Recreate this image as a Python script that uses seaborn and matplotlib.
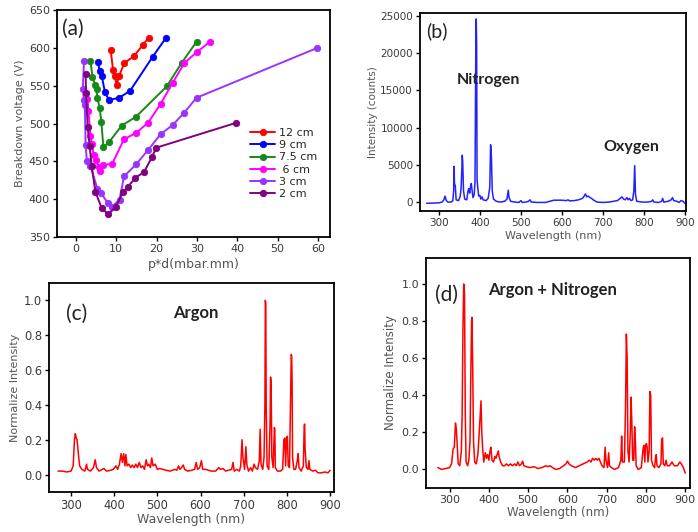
import pandas as pd
import numpy as np
import seaborn as sns
import matplotlib.pyplot as plt
sns.set_theme(style="ticks")
plt.rcParams['font.family'] = ['DejaVu Sans']

## (a) breakdown voltage vs p*d
pd_12 = [8.6, 9.2, 9.6, 10.1, 10.7, 12.0, 14.4, 16.6, 18.0]
v_12 = [597, 571, 563, 551, 563, 580, 589, 604, 613]
pd_9 = [5.4, 5.9, 6.4, 7.2, 8.2, 10.7, 13.4, 19.0, 22.3]
v_9 = [581, 570, 563, 541, 531, 534, 543, 588, 613]
pd_75 = [3.6, 4.1, 4.8, 5.1, 5.3, 5.9, 6.3, 6.8, 8.3, 11.3, 14.9, 22.5, 26.2, 29.9]
v_75 = [583, 561, 551, 546, 534, 520, 502, 469, 476, 497, 509, 549, 580, 608]
pd_6 = [2.8, 3.1, 3.6, 3.9, 4.4, 5.0, 5.6, 6.0, 6.6, 9.0, 11.9, 15.0, 17.9, 21.0, 24.0, 26.9, 29.9, 33.2]
v_6 = [532, 517, 483, 473, 459, 452, 442, 437, 445, 447, 479, 488, 501, 526, 554, 580, 594, 608]
pd_3 = [2.0, 1.7, 2.0, 2.2, 2.4, 2.7, 3.6, 5.3, 6.2, 7.9, 8.9, 10.8, 11.9, 14.9, 17.9, 21.0, 24.0, 26.8, 29.9, 59.9]
v_3 = [583, 545, 531, 524, 471, 451, 444, 414, 408, 395, 390, 399, 430, 446, 465, 486, 498, 514, 534, 600]
pd_2 = [2.4, 2.5, 2.9, 3.4, 3.9, 4.8, 6.4, 8.0, 9.9, 11.6, 12.8, 14.7, 16.9, 18.9, 19.9, 39.8]
v_2 = [565, 540, 496, 470, 444, 410, 388, 380, 390, 409, 416, 428, 436, 456, 468, 501]
gaps = ['12 cm', '9 cm', '7.5 cm', ' 6 cm', '3 cm', '2 cm']
gap_colors = ['#ff0000', '#0000ff', '#168a16', '#ff00ff', '#9933ff', '#800080']

## (b) air spectrum, counts
wl_air = [270, 280, 300, 308, 312, 315, 318, 322, 330, 334, 336, 337, 338, 340, 342, 348, 352, 354, 356, 357,
          358, 360, 363, 368, 371, 373, 375, 377, 379, 381, 383, 386, 388, 390, 391, 392, 393, 395, 397, 400,
          402, 405, 408, 415, 420, 424, 426, 428, 430, 433, 440, 450, 460, 466, 469, 471, 475, 485, 495, 500,
          503, 512, 518, 522, 525, 540, 560, 570, 580, 590, 600, 610, 615, 618, 630, 640, 650, 654, 657, 660,
          664, 668, 672, 676, 685, 700, 715, 725, 735, 742, 746, 750, 754, 758, 761, 764, 768, 772, 775, 777,
          779, 782, 795, 810, 818, 821, 824, 835, 843, 845, 848, 858, 866, 869, 872, 880, 885, 890, 895, 900]
cnt_air = [-150, -150, -100, 0, 300, 800, 200, 0, 0, 200, 1500, 4800, 2500, 2200, 300, 200, 800, 1800, 4500, 6300,
           5500, 1500, 400, 300, 1500, 1800, 1200, 2000, 2500, 1500, 600, 1000, 2800, 21000, 24600, 21000, 3000, 1800, 800, 900,
           400, 700, 300, 200, 500, 2000, 7700, 6000, 1500, 400, 100, 0, 100, 400, 1600, 600, 100, 0, -50, 200,
           -50, 0, 100, 300, 0, -50, -50, 100, 250, 250, 250, 200, 300, 150, 200, 300, 500, 800, 1100, 700,
           800, 600, 500, 300, 0, -50, 0, 100, 200, 500, 700, 400, 300, 600, 300, 500, 200, 300, 1500, 4900,
           1000, 100, 0, 0, 100, 300, 0, -50, 100, 500, 0, 100, 300, 600, 200, 100, -50, 200, 100, -200]

## (c) argon, normalised
wl_ar = [270, 280, 290, 300, 305, 308, 310, 312, 314, 317, 320, 325, 332, 336, 338, 345, 352, 356, 359, 365,
         372, 376, 382, 392, 398, 404, 408, 412, 416, 419, 422, 425, 427, 430, 434, 438, 442, 446, 450, 454,
         458, 462, 466, 470, 474, 477, 480, 484, 487, 490, 495, 500, 506, 512, 520, 530, 540, 545, 549, 552,
         556, 560, 563, 570, 580, 586, 590, 593, 598, 602, 605, 612, 618, 625, 635, 642, 646, 652, 658, 665,
         672, 675, 678, 684, 690, 693, 696, 698, 702, 705, 707, 711, 716, 720, 724, 727, 732, 736, 738, 740,
         744, 747, 749, 750, 751, 752, 754, 758, 761, 762, 763, 764, 765, 768, 771, 772, 773, 778, 785, 790,
         793, 795, 797, 799, 801, 803, 806, 809, 810, 811, 812, 813, 816, 820, 824, 826, 828, 833, 838, 840,
         841, 842, 845, 849, 851, 853, 860, 866, 872, 880, 888, 895, 900]
int_ar = [0.02, 0.02, 0.015, 0.02, 0.05, 0.2, 0.235, 0.21, 0.2, 0.12, 0.05, 0.03, 0.02, 0.06, 0.03, 0.02, 0.04, 0.085, 0.04, 0.02,
          0.03, 0.035, 0.02, 0.025, 0.03, 0.05, 0.03, 0.06, 0.12, 0.07, 0.12, 0.05, 0.115, 0.05, 0.06, 0.04, 0.055, 0.04, 0.06, 0.04,
          0.07, 0.04, 0.05, 0.03, 0.085, 0.05, 0.06, 0.04, 0.095, 0.05, 0.06, 0.03, 0.035, 0.03, 0.025, 0.02, 0.03, 0.025, 0.05, 0.03,
          0.04, 0.055, 0.03, 0.02, 0.025, 0.03, 0.07, 0.03, 0.04, 0.08, 0.03, 0.03, 0.025, 0.02, 0.02, 0.04, 0.03, 0.035, 0.02, 0.025,
          0.03, 0.07, 0.02, 0.03, 0.02, 0.05, 0.2, 0.1, 0.03, 0.16, 0.06, 0.02, 0.04, 0.02, 0.06, 0.04, 0.03, 0.08, 0.26, 0.06,
          0.03, 0.1, 0.4, 1.0, 0.98, 0.4, 0.05, 0.03, 0.3, 0.56, 0.54, 0.38, 0.1, 0.04, 0.27, 0.25, 0.04, 0.02, 0.02, 0.03,
          0.2, 0.21, 0.05, 0.21, 0.22, 0.05, 0.04, 0.5, 0.69, 0.68, 0.54, 0.1, 0.03, 0.03, 0.08, 0.12, 0.04, 0.02, 0.05, 0.28,
          0.29, 0.15, 0.04, 0.03, 0.08, 0.03, 0.02, 0.025, 0.01, 0.01, 0.015, 0.01, 0.025]

## (d) argon + nitrogen, normalised
wl_arn = [270, 280, 290, 300, 305, 309, 312, 315, 317, 319, 322, 326, 330, 332, 334, 336, 338, 340, 342, 346,
          349, 352, 354, 356, 357, 359, 361, 364, 368, 372, 375, 378, 380, 382, 384, 387, 391, 394, 397, 400,
          403, 405, 408, 412, 415, 418, 421, 424, 426, 430, 435, 440, 445, 450, 455, 460, 466, 470, 474, 478,
          483, 486, 489, 495, 505, 515, 525, 535, 545, 550, 556, 562, 570, 580, 590, 596, 600, 604, 610, 620,
          630, 640, 650, 656, 660, 664, 668, 672, 676, 680, 684, 688, 693, 696, 698, 702, 705, 707, 712, 720,
          730, 736, 738, 740, 745, 748, 750, 752, 754, 757, 760, 762, 764, 766, 769, 771, 773, 775, 780, 788,
          793, 795, 797, 799, 801, 803, 805, 808, 810, 812, 814, 818, 822, 824, 826, 828, 833, 838, 840, 842,
          844, 848, 851, 854, 860, 866, 872, 880, 886, 890, 895, 900]
int_arn = [0.01, 0.0, 0.005, 0.01, 0.03, 0.11, 0.12, 0.25, 0.22, 0.15, 0.03, 0.02, 0.1, 0.3, 0.75, 1.0, 0.95, 0.3, 0.04, 0.02,
           0.05, 0.15, 0.5, 0.8, 0.82, 0.53, 0.15, 0.04, 0.03, 0.08, 0.18, 0.3, 0.37, 0.2, 0.12, 0.04, 0.09, 0.06, 0.08, 0.05,
           0.1, 0.12, 0.05, 0.04, 0.07, 0.06, 0.08, 0.1, 0.07, 0.04, 0.02, 0.02, 0.03, 0.02, 0.03, 0.02, 0.03, 0.02, 0.04, 0.02,
           0.03, 0.045, 0.02, 0.015, 0.01, 0.015, 0.005, 0.01, 0.02, 0.015, 0.02, 0.01, 0.0, 0.005, 0.02, 0.03, 0.045, 0.03, 0.02, 0.01,
           0.02, 0.03, 0.04, 0.05, 0.04, 0.06, 0.05, 0.06, 0.05, 0.06, 0.04, 0.02, 0.01, 0.12, 0.05, 0.01, 0.09, 0.02, 0.01, 0.0,
           0.01, 0.05, 0.18, 0.04, 0.04, 0.35, 0.73, 0.6, 0.1, 0.04, 0.2, 0.39, 0.25, 0.05, 0.05, 0.23, 0.15, 0.02, 0.0, 0.01,
           0.12, 0.13, 0.04, 0.13, 0.14, 0.12, 0.04, 0.1, 0.42, 0.4, 0.05, 0.02, 0.01, 0.06, 0.08, 0.02, 0.01, 0.03, 0.16, 0.17,
           0.03, 0.02, 0.05, 0.02, 0.02, 0.04, 0.02, 0.02, 0.04, 0.03, 0.01, -0.02]

W, H = 698, 532
fig = plt.figure(figsize=(W / 100, H / 100), dpi=100)

def box(l, t, r, b):
    # pixel box -> figure axes
    return fig.add_axes([l / W, 1 - b / H, (r - l) / W, (b - t) / H])

def style(ax, fs=8):
    for s in ax.spines.values():
        s.set_visible(True)
        s.set_color('black')
        s.set_linewidth(1.3)
    ax.tick_params(direction='out', length=3, width=1, labelsize=fs, colors='black', labelcolor='#3a3a3a', pad=2)

tc = '#555555'
cal = ['Lato', 'DejaVu Sans']

# (a)
ax_a = box(57, 10, 330, 237)
frames = []
for lab, xs, ys in zip(gaps, [pd_12, pd_9, pd_75, pd_6, pd_3, pd_2], [v_12, v_9, v_75, v_6, v_3, v_2]):
    frames.append(pd.DataFrame({'pd': xs, 'V': ys, 'gap': lab}))
df_a = pd.concat(frames, ignore_index=True)
sns.lineplot(data=df_a, x='pd', y='V', hue='gap', hue_order=gaps, palette=dict(zip(gaps, gap_colors)),
             sort=False, estimator=None, marker='o', markersize=4.6, linewidth=1.4, ax=ax_a)
ax_a.set_xlim(-4.7, 63)
ax_a.set_ylim(350, 650)
ax_a.set_xticks(range(0, 61, 10))
ax_a.set_yticks(range(350, 651, 50))
ax_a.set_xlabel('p*d(mbar.mm)', fontsize=9, color=tc, labelpad=3)
ax_a.set_ylabel('Breakdown voltage (V)', fontsize=8, color=tc, labelpad=3)
ax_a.text(-3.5, 625, '(a)', fontsize=15, va='center', ha='left', color='#222222', family=cal)
leg = ax_a.legend(loc='upper left', bbox_to_anchor=(0.69, 0.5), frameon=False, fontsize=8,
                  handlelength=2.3, labelspacing=0.2, borderaxespad=0, handletextpad=0.3)
# marker edges in the line colour, like the original
for ln in list(ax_a.lines) + list(leg.get_lines()):
    ln.set_markeredgecolor(ln.get_color())
    ln.set_markeredgewidth(0.6)
style(ax_a)

# (b)
ax_b = box(420, 13, 686, 211)
sns.lineplot(x=wl_air, y=cnt_air, color='#2222ff', linewidth=1.1, ax=ax_b)
ax_b.set_xlim(254, 902)
ax_b.set_ylim(-1200, 25400)
ax_b.set_xticks(range(300, 901, 100))
ax_b.set_yticks(range(0, 25001, 5000))
ax_b.set_xlabel('Wavelength (nm)', fontsize=8, color=tc, labelpad=2)
ax_b.set_ylabel('Intensity (counts)', fontsize=7.5, color=tc, labelpad=2)
ax_b.text(268, 23000, '(b)', fontsize=14, va='center', ha='left', color='#222222', family=cal)
ax_b.text(420, 16400, 'Nitrogen', fontsize=11.5, fontweight='bold', ha='center', va='center',
          family=cal, color='#222222')
ax_b.text(769, 7400, 'Oxygen', fontsize=11.5, fontweight='bold', ha='center', va='center',
          family=cal, color='#222222')
style(ax_b, 7.5)

# (c)
ax_c = box(49, 283, 334, 492)
sns.lineplot(x=wl_ar, y=int_ar, color='#ff0000', linewidth=1.1, ax=ax_c)
ax_c.set_xlim(249, 909)
ax_c.set_ylim(-0.1, 1.1)
ax_c.set_xticks(range(300, 901, 100))
ax_c.set_yticks(np.arange(0, 1.01, 0.2))
ax_c.set_yticklabels(['0.0', '0.2', '0.4', '0.6', '0.8', '1.0'])
ax_c.set_xlabel('Wavelength (nm)', fontsize=9, color=tc, labelpad=1)
ax_c.set_ylabel('Normalize Intensity', fontsize=8, color=tc, labelpad=3)
ax_c.text(314, 0.92, '(c)', fontsize=15, va='center', ha='center', color='#222222', family=cal)
ax_c.text(590, 0.93, 'Argon', fontsize=12, fontweight='bold', ha='center', va='center',
          family=cal, color='#222222')
style(ax_c, 8.3)

# (d)
ax_d = box(426, 258, 690, 488)
sns.lineplot(x=wl_arn, y=int_arn, color='#ff0000', linewidth=1.1, ax=ax_d)
ax_d.set_xlim(240, 912)
ax_d.set_ylim(-0.1, 1.14)
ax_d.set_xticks(range(300, 901, 100))
ax_d.set_yticks(np.arange(0, 1.01, 0.2))
ax_d.set_yticklabels(['0.0', '0.2', '0.4', '0.6', '0.8', '1.0'])
ax_d.set_xlabel('Wavelength (nm)', fontsize=8.5, color=tc, labelpad=1)
ax_d.set_ylabel('Normalize Intensity', fontsize=8.5, color=tc, labelpad=3)
ax_d.text(292, 0.94, '(d)', fontsize=15, va='center', ha='center', color='#222222', family=cal)
ax_d.text(563, 0.965, 'Argon + Nitrogen', fontsize=12, fontweight='bold', ha='center', va='center',
          family=cal, color='#222222')
style(ax_d, 8)

fig.savefig('out.png', dpi=100)
